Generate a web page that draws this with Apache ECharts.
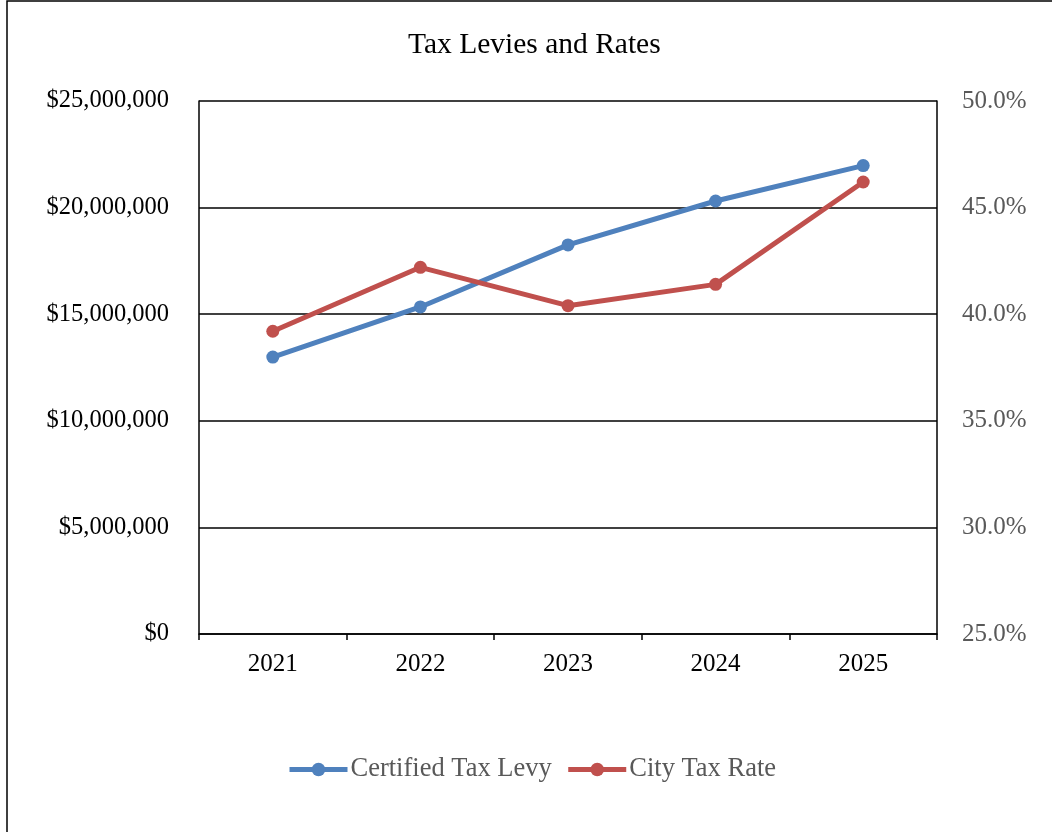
<!DOCTYPE html>
<html>
<head>
<meta charset="utf-8">
<title>Tax Levies and Rates</title>
<script src="https://cdn.jsdelivr.net/npm/echarts@6/dist/echarts.min.js"></script>
<style>
  html, body { margin: 0; padding: 0; background: #ffffff; }
  #chart { width: 1052px; height: 832px; }
</style>
</head>
<body>
<div id="chart"></div>
<script>
// Fiscal years on the category axis
var years = ['2021', '2022', '2023', '2024', '2025'];
// Certified tax levy in dollars
var certifiedTaxLevy = [12990000, 15340000, 18250000, 20310000, 21970000];
// City tax rate in percent
var cityTaxRate = [39.2, 42.2, 40.4, 41.4, 46.2];

var SERIF = '"Liberation Serif", "Times New Roman", "DejaVu Serif", serif';

function formatDollars(v) {
  return '$' + Math.round(v).toString().replace(/\B(?=(\d{3})+(?!\d))/g, ',');
}

var chart = echarts.init(document.getElementById('chart'), null, { renderer: 'canvas' });

chart.setOption({
  backgroundColor: '#ffffff',
  animation: false,
  title: {
    text: 'Tax Levies and Rates',
    left: 403,
    top: 25,
    textStyle: { fontFamily: SERIF, fontSize: 29.5, fontWeight: 'normal', color: '#000000' }
  },
  graphic: [{
    type: 'rect',
    shape: { x: 7, y: 1, width: 1200, height: 1000 },
    style: { fill: null, stroke: '#000000', lineWidth: 1.5 },
    silent: true,
    z: 100
  }],
  legend: {
    left: 282,
    top: 751,
    itemWidth: 58,
    itemHeight: 17,
    itemGap: 14,
    lineStyle: { width: 5 },
    textStyle: { fontFamily: SERIF, fontSize: 26.5, color: '#595959', padding: [0, 0, 0, -2] },
    data: ['Certified Tax Levy', 'City Tax Rate']
  },
  grid: { left: 199, right: 115, top: 101, bottom: 198, containLabel: false },
  xAxis: {
    type: 'category',
    data: years,
    boundaryGap: true,
    axisLine: { show: true, lineStyle: { color: '#000000', width: 1.5 } },
    axisTick: { show: true, inside: false, length: 6, alignWithLabel: false, lineStyle: { color: '#000000', width: 1.5 } },
    axisLabel: { fontFamily: SERIF, fontSize: 25, color: '#000000', margin: 18 },
    splitLine: { show: false }
  },
  yAxis: [{
    type: 'value',
    min: 0,
    max: 25000000,
    interval: 5000000,
    position: 'left',
    axisLine: { show: true, lineStyle: { color: '#000000', width: 1.5 } },
    axisTick: { show: false },
    axisLabel: { fontFamily: SERIF, fontSize: 24.5, color: '#000000', margin: 30, formatter: formatDollars },
    splitLine: { show: true, lineStyle: { color: '#000000', width: 1.5 } }
  }, {
    type: 'value',
    min: 25,
    max: 50,
    interval: 5,
    position: 'right',
    axisLine: { show: true, lineStyle: { color: '#000000', width: 1.5 } },
    axisTick: { show: false },
    axisLabel: { fontFamily: SERIF, fontSize: 25, color: '#595959', margin: 25,
      formatter: function (v) { return v.toFixed(1) + '%'; } },
    splitLine: { show: false }
  }],
  series: [{
    name: 'Certified Tax Levy',
    type: 'line',
    yAxisIndex: 0,
    data: certifiedTaxLevy,
    symbol: 'circle',
    symbolSize: 13,
    showAllSymbol: true,
    itemStyle: { color: '#4F81BD' },
    lineStyle: { color: '#4F81BD', width: 5 },
    z: 2
  }, {
    name: 'City Tax Rate',
    type: 'line',
    yAxisIndex: 1,
    data: cityTaxRate,
    symbol: 'circle',
    symbolSize: 13,
    showAllSymbol: true,
    itemStyle: { color: '#C0504D' },
    lineStyle: { color: '#C0504D', width: 5 },
    z: 3
  }]
});
</script>
</body>
</html>
